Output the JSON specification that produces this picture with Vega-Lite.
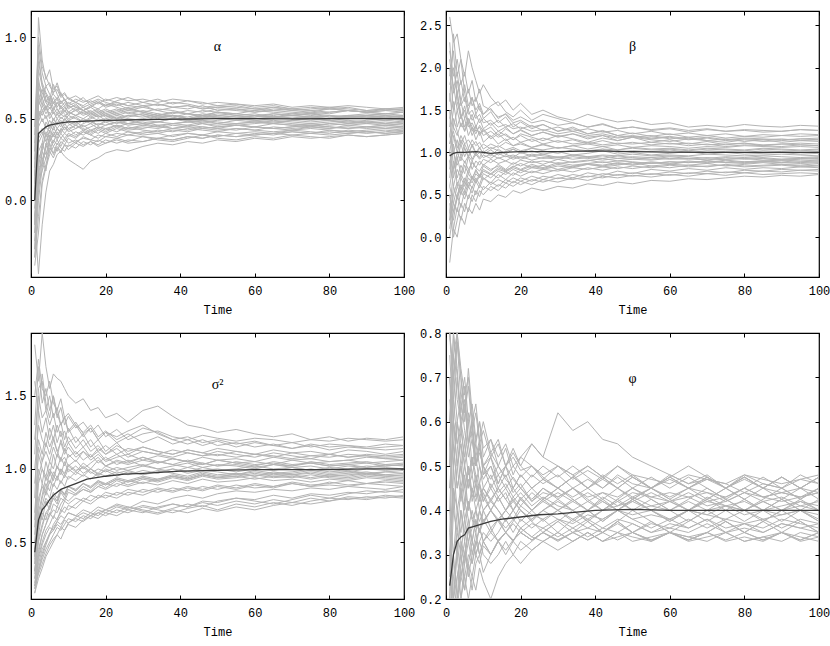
{
  "$schema": "https://vega.github.io/schema/vega-lite/v6.json",
  "padding": {"left": 3, "top": 9, "right": 0, "bottom": 5},
  "background": "white",
  "datasets": {
    "alpha": [
      {"s":1,"t":[1,2,3,4,5,6,7,8,9,10,12,14,16,18,20,23,26,30,34,38,42,46,50,55,60,65,70,75,80,85,90,95,100],"v":[0.0,1.12,0.86,0.74,0.80,0.68,0.70,0.64,0.66,0.62,0.60,0.63,0.58,0.60,0.57,0.59,0.56,0.58,0.55,0.57,0.56,0.58,0.55,0.56,0.54,0.56,0.55,0.54,0.56,0.55,0.54,0.56,0.55]},
      {"s":2,"t":[1,2,3,4,5,6,7,8,9,10,12,14,16,18,20,23,26,30,34,38,42,46,50,55,60,65,70,75,80,85,90,95,100],"v":[-0.1,-0.45,-0.15,0.05,0.18,0.22,0.28,0.30,0.34,0.33,0.36,0.38,0.37,0.40,0.39,0.41,0.40,0.42,0.41,0.43,0.42,0.44,0.43,0.44,0.43,0.45,0.44,0.45,0.44,0.46,0.45,0.44,0.45]},
      {"s":3,"t":[1,2,3,4,5,6,7,8,9,10,12,14,16,18,20,23,26,30,34,38,42,46,50,55,60,65,70,75,80,85,90,95,100],"v":[0.3,0.85,0.72,0.66,0.62,0.71,0.65,0.60,0.62,0.57,0.58,0.55,0.57,0.54,0.56,0.53,0.55,0.54,0.52,0.54,0.53,0.52,0.54,0.53,0.52,0.53,0.52,0.53,0.52,0.51,0.52,0.53,0.52]},
      {"s":4,"t":[1,2,3,4,5,6,7,8,9,10,12,14,16,18,20,23,26,30,34,38,42,46,50,55,60,65,70,75,80,85,90,95,100],"v":[-0.3,0.15,0.30,0.42,0.38,0.45,0.40,0.43,0.47,0.44,0.46,0.43,0.45,0.47,0.46,0.48,0.47,0.46,0.48,0.47,0.48,0.49,0.48,0.47,0.48,0.49,0.48,0.47,0.48,0.49,0.48,0.47,0.48]},
      {"s":5,"t":[1,2,3,4,5,6,7,8,9,10,12,14,16,18,20,23,26,30,34,38,42,46,50,55,60,65,70,75,80,85,90,95,100],"v":[0.2,0.62,0.55,0.58,0.52,0.56,0.60,0.57,0.54,0.58,0.55,0.57,0.54,0.56,0.53,0.55,0.57,0.54,0.56,0.55,0.53,0.55,0.54,0.53,0.55,0.54,0.53,0.54,0.53,0.55,0.54,0.53,0.54]},
      {"s":6,"t":[1,2,3,4,5,6,7,8,9,10,12,14,16,18,20,23,26,30,34,38,42,46,50,55,60,65,70,75,80,85,90,95,100],"v":[-0.2,0.05,0.25,0.18,0.35,0.28,0.33,0.30,0.27,0.25,0.22,0.19,0.24,0.26,0.29,0.31,0.30,0.33,0.35,0.34,0.36,0.35,0.37,0.36,0.38,0.37,0.39,0.38,0.39,0.40,0.39,0.40,0.41]},
      {"s":7,"t":[1,2,3,4,5,6,7,8,9,10,12,14,16,18,20,23,26,30,34,38,42,46,50,55,60,65,70,75,80,85,90,95,100],"v":[0.1,0.55,0.48,0.52,0.45,0.50,0.47,0.51,0.49,0.52,0.50,0.48,0.51,0.49,0.50,0.52,0.50,0.49,0.51,0.50,0.49,0.51,0.50,0.49,0.50,0.51,0.50,0.49,0.50,0.51,0.50,0.49,0.50]},
      {"s":8,"t":[1,2,3,4,5,6,7,8,9,10,12,14,16,18,20,23,26,30,34,38,42,46,50,55,60,65,70,75,80,85,90,95,100],"v":[0.4,0.95,0.78,0.70,0.72,0.65,0.62,0.66,0.61,0.63,0.60,0.58,0.61,0.59,0.62,0.60,0.58,0.60,0.62,0.59,0.61,0.60,0.58,0.59,0.57,0.58,0.56,0.57,0.56,0.57,0.55,0.56,0.56]},
      {"s":9,"t":[1,2,3,4,5,6,7,8,9,10,12,14,16,18,20,23,26,30,34,38,42,46,50,55,60,65,70,75,80,85,90,95,100],"v":[-0.4,-0.2,0.10,0.20,0.28,0.33,0.30,0.36,0.34,0.38,0.35,0.39,0.37,0.36,0.39,0.38,0.40,0.39,0.38,0.40,0.41,0.40,0.39,0.41,0.40,0.41,0.42,0.41,0.40,0.41,0.42,0.41,0.42]},
      {"s":10,"t":[1,2,3,4,5,6,7,8,9,10,12,14,16,18,20,23,26,30,34,38,42,46,50,55,60,65,70,75,80,85,90,95,100],"v":[0.0,0.40,0.44,0.39,0.46,0.43,0.48,0.45,0.50,0.47,0.44,0.47,0.49,0.46,0.48,0.45,0.47,0.48,0.46,0.47,0.48,0.47,0.46,0.47,0.48,0.47,0.46,0.47,0.46,0.47,0.48,0.47,0.46]},
      {"s":11,"t":[1,2,3,4,5,6,7,8,9,10,12,14,16,18,20,23,26,30,34,38,42,46,50,55,60,65,70,75,80,85,90,95,100],"v":[0.15,0.72,0.66,0.60,0.64,0.59,0.62,0.57,0.60,0.56,0.59,0.55,0.57,0.60,0.58,0.61,0.63,0.60,0.58,0.60,0.59,0.57,0.58,0.57,0.56,0.55,0.56,0.55,0.54,0.55,0.54,0.53,0.54]},
      {"s":12,"t":[1,2,3,4,5,6,7,8,9,10,12,14,16,18,20,23,26,30,34,38,42,46,50,55,60,65,70,75,80,85,90,95,100],"v":[-0.25,0.20,0.22,0.35,0.30,0.37,0.34,0.38,0.36,0.40,0.38,0.42,0.40,0.43,0.41,0.44,0.42,0.41,0.43,0.42,0.44,0.43,0.42,0.44,0.43,0.42,0.43,0.44,0.43,0.42,0.43,0.44,0.43]},
      {"s":13,"t":[1,2,3,4,5,6,7,8,9,10,12,14,16,18,20,23,26,30,34,38,42,46,50,55,60,65,70,75,80,85,90,95,100],"v":[0.05,0.58,0.63,0.56,0.60,0.54,0.52,0.55,0.53,0.50,0.52,0.54,0.51,0.53,0.55,0.52,0.54,0.52,0.50,0.52,0.51,0.53,0.52,0.51,0.52,0.51,0.53,0.52,0.51,0.52,0.51,0.52,0.51]},
      {"s":14,"t":[1,2,3,4,5,6,7,8,9,10,12,14,16,18,20,23,26,30,34,38,42,46,50,55,60,65,70,75,80,85,90,95,100],"v":[-0.15,0.30,0.35,0.28,0.36,0.40,0.37,0.33,0.38,0.35,0.37,0.34,0.36,0.33,0.35,0.37,0.35,0.36,0.38,0.37,0.39,0.38,0.40,0.39,0.41,0.40,0.42,0.41,0.43,0.42,0.41,0.42,0.43]},
      {"s":15,"t":[1,2,3,4,5,6,7,8,9,10,12,14,16,18,20,23,26,30,34,38,42,46,50,55,60,65,70,75,80,85,90,95,100],"v":[0.25,0.80,0.70,0.62,0.58,0.63,0.57,0.61,0.58,0.60,0.57,0.55,0.58,0.56,0.59,0.57,0.55,0.57,0.55,0.53,0.55,0.54,0.56,0.55,0.54,0.55,0.54,0.53,0.54,0.55,0.54,0.55,0.54]},
      {"s":16,"t":[1,2,3,4,5,6,7,8,9,10,12,14,16,18,20,23,26,30,34,38,42,46,50,55,60,65,70,75,80,85,90,95,100],"v":[-0.05,0.10,0.18,0.26,0.32,0.29,0.35,0.32,0.30,0.34,0.32,0.36,0.34,0.37,0.35,0.38,0.36,0.39,0.37,0.36,0.38,0.40,0.38,0.37,0.39,0.38,0.40,0.39,0.38,0.40,0.39,0.40,0.41]},
      {"s":17,"t":[1,2,3,4,5,6,7,8,9,10,12,14,16,18,20,23,26,30,34,38,42,46,50,55,60,65,70,75,80,85,90,95,100],"v":[0.1,0.66,0.58,0.64,0.61,0.66,0.72,0.65,0.62,0.59,0.62,0.60,0.62,0.64,0.61,0.63,0.61,0.62,0.60,0.62,0.61,0.59,0.60,0.59,0.58,0.59,0.57,0.58,0.57,0.58,0.57,0.56,0.57]},
      {"s":18,"t":[1,2,3,4,5,6,7,8,9,10,12,14,16,18,20,23,26,30,34,38,42,46,50,55,60,65,70,75,80,85,90,95,100],"v":[-0.35,0.00,0.20,0.34,0.42,0.39,0.44,0.41,0.45,0.43,0.46,0.44,0.42,0.45,0.43,0.46,0.44,0.45,0.44,0.46,0.45,0.44,0.45,0.46,0.45,0.44,0.45,0.46,0.45,0.44,0.45,0.46,0.45]},
      {"s":19,"t":[1,2,3,4,5,6,7,8,9,10,12,14,16,18,20,23,26,30,34,38,42,46,50,55,60,65,70,75,80,85,90,95,100],"v":[0.0,0.48,0.55,0.50,0.54,0.49,0.53,0.50,0.52,0.49,0.51,0.48,0.50,0.52,0.49,0.51,0.49,0.50,0.52,0.51,0.49,0.50,0.51,0.50,0.49,0.50,0.51,0.50,0.49,0.50,0.51,0.50,0.49]},
      {"s":20,"t":[1,2,3,4,5,6,7,8,9,10,12,14,16,18,20,23,26,30,34,38,42,46,50,55,60,65,70,75,80,85,90,95,100],"v":[-0.1,0.25,0.32,0.40,0.36,0.42,0.38,0.44,0.41,0.39,0.42,0.40,0.43,0.41,0.44,0.42,0.45,0.43,0.42,0.44,0.43,0.45,0.44,0.43,0.45,0.44,0.43,0.45,0.44,0.45,0.44,0.45,0.44]},
      {"s":21,"t":[1,2,3,4,5,6,7,8,9,10,12,14,16,18,20,23,26,30,34,38,42,46,50,55,60,65,70,75,80,85,90,95,100],"v":[0.2,0.75,0.6,0.55,0.62,0.57,0.53,0.58,0.55,0.52,0.56,0.53,0.55,0.52,0.54,0.56,0.53,0.55,0.53,0.51,0.53,0.52,0.54,0.52,0.53,0.51,0.52,0.53,0.51,0.52,0.53,0.52,0.51]},
      {"s":22,"t":[1,2,3,4,5,6,7,8,9,10,12,14,16,18,20,23,26,30,34,38,42,46,50,55,60,65,70,75,80,85,90,95,100],"v":[-0.2,0.35,0.4,0.45,0.42,0.48,0.44,0.47,0.43,0.46,0.48,0.45,0.47,0.44,0.46,0.48,0.46,0.47,0.45,0.47,0.46,0.48,0.47,0.46,0.47,0.48,0.47,0.46,0.47,0.48,0.47,0.48,0.47]},
      {"s":23,"t":[1,2,3,4,5,6,7,8,9,10,12,14,16,18,20,23,26,30,34,38,42,46,50,55,60,65,70,75,80,85,90,95,100],"v":[0.35,0.9,0.7,0.65,0.6,0.55,0.6,0.56,0.58,0.54,0.57,0.55,0.53,0.55,0.52,0.54,0.56,0.54,0.52,0.54,0.53,0.51,0.53,0.52,0.51,0.53,0.52,0.51,0.52,0.51,0.5,0.51,0.52]},
      {"s":24,"t":[1,2,3,4,5,6,7,8,9,10,12,14,16,18,20,23,26,30,34,38,42,46,50,55,60,65,70,75,80,85,90,95,100],"v":[-0.3,0.1,0.3,0.25,0.4,0.35,0.42,0.38,0.41,0.44,0.4,0.43,0.41,0.44,0.42,0.45,0.43,0.44,0.46,0.44,0.45,0.47,0.45,0.46,0.45,0.47,0.46,0.45,0.47,0.46,0.47,0.46,0.47]},
      {"s":25,"t":[1,2,3,4,5,6,7,8,9,10,12,14,16,18,20,23,26,30,34,38,42,46,50,55,60,65,70,75,80,85,90,95,100],"v":[0.1,0.6,0.68,0.6,0.56,0.6,0.56,0.53,0.57,0.54,0.52,0.55,0.52,0.54,0.51,0.53,0.51,0.53,0.51,0.52,0.5,0.52,0.51,0.5,0.52,0.51,0.5,0.51,0.5,0.51,0.52,0.51,0.5]},
      {"s":26,"t":[1,2,3,4,5,6,7,8,9,10,12,14,16,18,20,23,26,30,34,38,42,46,50,55,60,65,70,75,80,85,90,95,100],"v":[-0.1,0.2,0.35,0.48,0.44,0.5,0.46,0.49,0.46,0.49,0.47,0.5,0.48,0.46,0.49,0.47,0.49,0.47,0.48,0.5,0.48,0.49,0.47,0.49,0.48,0.47,0.49,0.48,0.49,0.47,0.48,0.49,0.48]},
      {"s":27,"t":[1,2,3,4,5,6,7,8,9,10,12,14,16,18,20,23,26,30,34,38,42,46,50,55,60,65,70,75,80,85,90,95,100],"v":[0.3,0.7,0.62,0.7,0.65,0.6,0.63,0.59,0.62,0.58,0.6,0.57,0.59,0.61,0.58,0.6,0.58,0.57,0.59,0.57,0.58,0.56,0.57,0.58,0.56,0.57,0.55,0.56,0.57,0.56,0.55,0.56,0.55]},
      {"s":28,"t":[1,2,3,4,5,6,7,8,9,10,12,14,16,18,20,23,26,30,34,38,42,46,50,55,60,65,70,75,80,85,90,95,100],"v":[-0.15,0.28,0.25,0.32,0.38,0.33,0.37,0.41,0.38,0.41,0.39,0.42,0.4,0.38,0.41,0.39,0.42,0.4,0.41,0.39,0.41,0.4,0.42,0.41,0.42,0.41,0.43,0.42,0.41,0.43,0.42,0.43,0.42]},
      {"s":29,"t":[1,2,3,4,5,6,7,8,9,10,12,14,16,18,20,23,26,30,34,38,42,46,50,55,60,65,70,75,80,85,90,95,100],"v":[0.05,0.5,0.58,0.53,0.57,0.53,0.56,0.52,0.55,0.53,0.55,0.52,0.54,0.51,0.53,0.5,0.52,0.51,0.53,0.52,0.5,0.52,0.51,0.5,0.51,0.52,0.5,0.51,0.5,0.52,0.51,0.5,0.51]},
      {"s":30,"t":[1,2,3,4,5,6,7,8,9,10,12,14,16,18,20,23,26,30,34,38,42,46,50,55,60,65,70,75,80,85,90,95,100],"v":[0.0,0.45,0.5,0.44,0.49,0.45,0.5,0.47,0.5,0.48,0.46,0.49,0.47,0.5,0.48,0.49,0.47,0.49,0.48,0.5,0.49,0.48,0.49,0.5,0.49,0.48,0.49,0.5,0.49,0.48,0.49,0.5,0.49]},
      {"s":31,"t":[1,2,3,4,5,6,7,8,9,10,12,14,16,18,20,23,26,30,34,38,42,46,50,55,60,65,70,75,80,85,90,95,100],"v":[0.45,1.0,0.82,0.76,0.7,0.66,0.68,0.63,0.65,0.62,0.64,0.61,0.6,0.62,0.6,0.58,0.6,0.58,0.59,0.57,0.58,0.56,0.57,0.56,0.55,0.57,0.56,0.55,0.56,0.55,0.54,0.55,0.56]},
      {"s":32,"t":[1,2,3,4,5,6,7,8,9,10,12,14,16,18,20,23,26,30,34,38,42,46,50,55,60,65,70,75,80,85,90,95,100],"v":[-0.35,-0.1,0.12,0.22,0.3,0.26,0.32,0.29,0.34,0.31,0.35,0.33,0.36,0.34,0.37,0.35,0.37,0.36,0.38,0.37,0.39,0.38,0.4,0.39,0.4,0.41,0.4,0.41,0.42,0.41,0.42,0.41,0.42]},
      {"s":33,"t":[1,2,3,4,5,6,7,8,9,10,12,14,16,18,20,23,26,30,34,38,42,46,50,55,60,65,70,75,80,85,90,95,100],"v":[0.15,0.55,0.52,0.58,0.5,0.54,0.5,0.53,0.51,0.54,0.52,0.5,0.53,0.51,0.52,0.5,0.52,0.53,0.51,0.52,0.5,0.51,0.52,0.51,0.5,0.51,0.52,0.51,0.5,0.51,0.52,0.51,0.52]},
      {"s":34,"t":[1,2,3,4,5,6,7,8,9,10,12,14,16,18,20,23,26,30,34,38,42,46,50,55,60,65,70,75,80,85,90,95,100],"v":[-0.05,0.38,0.42,0.36,0.43,0.4,0.44,0.42,0.45,0.42,0.44,0.46,0.43,0.45,0.44,0.46,0.44,0.46,0.45,0.44,0.46,0.45,0.44,0.46,0.45,0.44,0.45,0.46,0.45,0.44,0.45,0.46,0.45]}
    ],
    "beta": [
      {"s":1,"t":[1,2,3,4,5,6,7,8,9,10,12,14,16,18,20,23,26,30,34,38,42,46,50,55,60,65,70,75,80,85,90,95,100],"v":[2.6,2.3,2.4,2.1,1.9,2.2,2.0,1.85,1.7,1.8,1.65,1.55,1.62,1.5,1.58,1.45,1.5,1.42,1.38,1.45,1.4,1.36,1.38,1.33,1.35,1.3,1.32,1.3,1.33,1.31,1.3,1.32,1.31]},
      {"s":2,"t":[1,2,3,4,5,6,7,8,9,10,12,14,16,18,20,23,26,30,34,38,42,46,50,55,60,65,70,75,80,85,90,95,100],"v":[-0.3,0.1,0.0,0.25,0.15,0.35,0.28,0.4,0.32,0.45,0.42,0.5,0.47,0.55,0.52,0.58,0.55,0.6,0.58,0.63,0.61,0.65,0.63,0.67,0.66,0.69,0.68,0.7,0.72,0.71,0.73,0.72,0.74]},
      {"s":3,"t":[1,2,3,4,5,6,7,8,9,10,12,14,16,18,20,23,26,30,34,38,42,46,50,55,60,65,70,75,80,85,90,95,100],"v":[1.8,2.0,1.7,1.85,1.6,1.75,1.55,1.65,1.5,1.45,1.55,1.6,1.48,1.42,1.5,1.38,1.45,1.4,1.35,1.3,1.34,1.28,1.3,1.26,1.28,1.24,1.27,1.25,1.26,1.24,1.25,1.27,1.26]},
      {"s":4,"t":[1,2,3,4,5,6,7,8,9,10,12,14,16,18,20,23,26,30,34,38,42,46,50,55,60,65,70,75,80,85,90,95,100],"v":[0.4,0.2,0.5,0.35,0.55,0.45,0.6,0.5,0.62,0.56,0.65,0.6,0.68,0.64,0.7,0.66,0.72,0.69,0.74,0.71,0.75,0.73,0.76,0.74,0.77,0.75,0.78,0.76,0.79,0.78,0.8,0.79,0.8]},
      {"s":5,"t":[1,2,3,4,5,6,7,8,9,10,12,14,16,18,20,23,26,30,34,38,42,46,50,55,60,65,70,75,80,85,90,95,100],"v":[1.4,1.6,1.3,1.45,1.25,1.35,1.2,1.3,1.22,1.28,1.18,1.25,1.2,1.15,1.22,1.18,1.14,1.2,1.16,1.12,1.17,1.14,1.18,1.15,1.13,1.16,1.14,1.12,1.15,1.13,1.14,1.16,1.15]},
      {"s":6,"t":[1,2,3,4,5,6,7,8,9,10,12,14,16,18,20,23,26,30,34,38,42,46,50,55,60,65,70,75,80,85,90,95,100],"v":[0.9,0.6,0.8,0.7,0.85,0.75,0.9,0.82,0.78,0.86,0.8,0.84,0.79,0.83,0.87,0.82,0.85,0.8,0.84,0.86,0.83,0.85,0.88,0.84,0.86,0.85,0.87,0.84,0.86,0.88,0.86,0.85,0.87]},
      {"s":7,"t":[1,2,3,4,5,6,7,8,9,10,12,14,16,18,20,23,26,30,34,38,42,46,50,55,60,65,70,75,80,85,90,95,100],"v":[2.2,1.9,2.1,1.8,1.95,1.7,1.85,1.6,1.75,1.55,1.5,1.42,1.45,1.35,1.38,1.3,1.33,1.25,1.28,1.22,1.25,1.2,1.18,1.2,1.16,1.18,1.14,1.16,1.13,1.15,1.12,1.14,1.13]},
      {"s":8,"t":[1,2,3,4,5,6,7,8,9,10,12,14,16,18,20,23,26,30,34,38,42,46,50,55,60,65,70,75,80,85,90,95,100],"v":[0.1,0.4,0.3,0.55,0.45,0.6,0.52,0.66,0.58,0.7,0.64,0.74,0.68,0.76,0.72,0.78,0.75,0.8,0.77,0.82,0.79,0.83,0.81,0.84,0.82,0.85,0.83,0.86,0.84,0.85,0.86,0.84,0.85]},
      {"s":9,"t":[1,2,3,4,5,6,7,8,9,10,12,14,16,18,20,23,26,30,34,38,42,46,50,55,60,65,70,75,80,85,90,95,100],"v":[1.2,1.0,1.15,0.95,1.1,1.0,1.08,0.98,1.05,1.0,1.06,1.02,0.98,1.04,1.0,1.05,1.02,0.99,1.03,1.01,1.04,1.0,1.02,1.01,1.03,1.0,1.02,1.01,1.0,1.02,1.01,1.0,1.01]},
      {"s":10,"t":[1,2,3,4,5,6,7,8,9,10,12,14,16,18,20,23,26,30,34,38,42,46,50,55,60,65,70,75,80,85,90,95,100],"v":[0.6,0.9,0.7,0.85,0.75,0.95,0.8,0.9,0.85,0.92,0.88,0.94,0.9,0.95,0.92,0.96,0.93,0.95,0.92,0.94,0.96,0.93,0.95,0.94,0.96,0.95,0.93,0.95,0.94,0.96,0.95,0.94,0.95]},
      {"s":11,"t":[1,2,3,4,5,6,7,8,9,10,12,14,16,18,20,23,26,30,34,38,42,46,50,55,60,65,70,75,80,85,90,95,100],"v":[1.6,2.4,1.9,2.1,1.7,1.5,1.65,1.45,1.55,1.4,1.48,1.35,1.42,1.3,1.36,1.28,1.33,1.25,1.3,1.22,1.26,1.2,1.23,1.19,1.22,1.18,1.2,1.17,1.19,1.18,1.2,1.19,1.2]},
      {"s":12,"t":[1,2,3,4,5,6,7,8,9,10,12,14,16,18,20,23,26,30,34,38,42,46,50,55,60,65,70,75,80,85,90,95,100],"v":[0.3,0.0,0.2,0.4,0.3,0.5,0.42,0.55,0.48,0.6,0.55,0.62,0.58,0.66,0.62,0.68,0.65,0.7,0.68,0.72,0.7,0.74,0.72,0.75,0.73,0.76,0.75,0.77,0.76,0.78,0.77,0.79,0.78]},
      {"s":13,"t":[1,2,3,4,5,6,7,8,9,10,12,14,16,18,20,23,26,30,34,38,42,46,50,55,60,65,70,75,80,85,90,95,100],"v":[1.0,1.3,1.2,1.35,1.25,1.4,1.3,1.22,1.32,1.25,1.3,1.2,1.28,1.22,1.26,1.2,1.24,1.19,1.22,1.18,1.2,1.17,1.19,1.16,1.18,1.15,1.17,1.14,1.16,1.15,1.16,1.14,1.15]},
      {"s":14,"t":[1,2,3,4,5,6,7,8,9,10,12,14,16,18,20,23,26,30,34,38,42,46,50,55,60,65,70,75,80,85,90,95,100],"v":[1.5,0.8,1.0,0.9,1.05,0.95,1.1,1.0,0.94,1.02,0.96,1.04,0.98,0.94,1.0,0.96,0.98,0.94,0.97,0.95,0.93,0.96,0.94,0.92,0.95,0.93,0.91,0.94,0.92,0.93,0.91,0.92,0.93]},
      {"s":15,"t":[1,2,3,4,5,6,7,8,9,10,12,14,16,18,20,23,26,30,34,38,42,46,50,55,60,65,70,75,80,85,90,95,100],"v":[0.7,1.1,0.6,0.75,0.65,0.8,0.7,0.78,0.72,0.8,0.75,0.82,0.78,0.84,0.8,0.86,0.82,0.88,0.85,0.87,0.89,0.86,0.88,0.87,0.89,0.88,0.9,0.88,0.89,0.9,0.88,0.89,0.9]},
      {"s":16,"t":[1,2,3,4,5,6,7,8,9,10,12,14,16,18,20,23,26,30,34,38,42,46,50,55,60,65,70,75,80,85,90,95,100],"v":[2.0,1.5,1.7,1.4,1.55,1.35,1.45,1.3,1.4,1.28,1.35,1.25,1.3,1.22,1.27,1.2,1.24,1.18,1.22,1.16,1.2,1.14,1.18,1.12,1.15,1.1,1.13,1.09,1.11,1.08,1.1,1.09,1.08]},
      {"s":17,"t":[1,2,3,4,5,6,7,8,9,10,12,14,16,18,20,23,26,30,34,38,42,46,50,55,60,65,70,75,80,85,90,95,100],"v":[0.2,0.5,0.65,0.55,0.7,0.6,0.72,0.66,0.74,0.7,0.62,0.68,0.64,0.7,0.66,0.72,0.68,0.74,0.7,0.76,0.73,0.78,0.75,0.8,0.78,0.81,0.79,0.82,0.8,0.82,0.81,0.83,0.82]},
      {"s":18,"t":[1,2,3,4,5,6,7,8,9,10,12,14,16,18,20,23,26,30,34,38,42,46,50,55,60,65,70,75,80,85,90,95,100],"v":[1.1,1.4,1.25,1.1,1.2,1.05,1.15,1.08,1.12,1.04,1.1,1.06,1.12,1.08,1.1,1.06,1.09,1.05,1.08,1.1,1.07,1.09,1.06,1.08,1.07,1.05,1.07,1.06,1.08,1.07,1.06,1.07,1.06]},
      {"s":19,"t":[1,2,3,4,5,6,7,8,9,10,12,14,16,18,20,23,26,30,34,38,42,46,50,55,60,65,70,75,80,85,90,95,100],"v":[0.5,0.3,0.45,0.6,0.5,0.65,0.58,0.7,0.62,0.75,0.7,0.78,0.74,0.8,0.76,0.82,0.8,0.84,0.82,0.86,0.84,0.87,0.85,0.88,0.86,0.89,0.87,0.9,0.88,0.89,0.9,0.88,0.89]},
      {"s":20,"t":[1,2,3,4,5,6,7,8,9,10,12,14,16,18,20,23,26,30,34,38,42,46,50,55,60,65,70,75,80,85,90,95,100],"v":[1.3,1.8,1.5,1.6,1.4,1.5,1.38,1.45,1.35,1.4,1.32,1.38,1.3,1.34,1.28,1.32,1.26,1.3,1.25,1.28,1.24,1.26,1.22,1.25,1.21,1.23,1.2,1.22,1.19,1.21,1.2,1.22,1.21]},
      {"s":21,"t":[1,2,3,4,5,6,7,8,9,10,12,14,16,18,20,23,26,30,34,38,42,46,50,55,60,65,70,75,80,85,90,95,100],"v":[1.9,2.2,1.6,1.4,1.5,1.3,1.35,1.25,1.3,1.2,1.25,1.18,1.22,1.15,1.2,1.13,1.17,1.12,1.15,1.1,1.14,1.1,1.12,1.09,1.11,1.08,1.1,1.07,1.09,1.08,1.07,1.09,1.08]},
      {"s":22,"t":[1,2,3,4,5,6,7,8,9,10,12,14,16,18,20,23,26,30,34,38,42,46,50,55,60,65,70,75,80,85,90,95,100],"v":[0.0,0.3,0.5,0.62,0.55,0.7,0.64,0.75,0.7,0.78,0.74,0.8,0.77,0.82,0.79,0.84,0.81,0.86,0.83,0.87,0.85,0.88,0.86,0.89,0.87,0.9,0.88,0.91,0.89,0.9,0.91,0.9,0.91]},
      {"s":23,"t":[1,2,3,4,5,6,7,8,9,10,12,14,16,18,20,23,26,30,34,38,42,46,50,55,60,65,70,75,80,85,90,95,100],"v":[1.0,0.7,0.9,1.1,0.95,1.05,0.92,1.0,1.06,0.98,1.03,0.97,1.01,1.04,0.99,1.02,0.98,1.01,0.97,0.99,1.02,0.98,1.0,0.97,0.99,1.01,0.98,1.0,0.98,0.99,1.0,0.98,0.99]},
      {"s":24,"t":[1,2,3,4,5,6,7,8,9,10,12,14,16,18,20,23,26,30,34,38,42,46,50,55,60,65,70,75,80,85,90,95,100],"v":[2.3,1.7,1.85,1.55,1.65,1.45,1.5,1.4,1.45,1.35,1.38,1.3,1.33,1.28,1.3,1.25,1.27,1.22,1.25,1.2,1.22,1.18,1.2,1.17,1.19,1.16,1.18,1.15,1.17,1.16,1.15,1.16,1.17]},
      {"s":25,"t":[1,2,3,4,5,6,7,8,9,10,12,14,16,18,20,23,26,30,34,38,42,46,50,55,60,65,70,75,80,85,90,95,100],"v":[0.8,1.2,1.0,1.15,1.05,0.95,1.02,0.96,1.0,0.94,0.98,0.93,0.96,0.92,0.95,0.91,0.94,0.92,0.95,0.93,0.91,0.93,0.92,0.94,0.92,0.93,0.91,0.92,0.93,0.91,0.92,0.93,0.92]},
      {"s":26,"t":[1,2,3,4,5,6,7,8,9,10,12,14,16,18,20,23,26,30,34,38,42,46,50,55,60,65,70,75,80,85,90,95,100],"v":[0.2,0.6,0.45,0.7,0.6,0.75,0.68,0.8,0.72,0.84,0.78,0.86,0.8,0.88,0.84,0.9,0.86,0.92,0.88,0.9,0.93,0.9,0.92,0.91,0.93,0.92,0.94,0.92,0.93,0.94,0.92,0.93,0.94]},
      {"s":27,"t":[1,2,3,4,5,6,7,8,9,10,12,14,16,18,20,23,26,30,34,38,42,46,50,55,60,65,70,75,80,85,90,95,100],"v":[1.7,1.3,1.5,1.3,1.4,1.2,1.3,1.15,1.25,1.12,1.2,1.1,1.16,1.08,1.12,1.06,1.1,1.05,1.08,1.04,1.07,1.03,1.06,1.04,1.05,1.03,1.05,1.04,1.03,1.05,1.04,1.03,1.04]},
      {"s":28,"t":[1,2,3,4,5,6,7,8,9,10,12,14,16,18,20,23,26,30,34,38,42,46,50,55,60,65,70,75,80,85,90,95,100],"v":[0.5,0.1,0.35,0.2,0.4,0.3,0.5,0.42,0.55,0.5,0.6,0.55,0.64,0.6,0.66,0.62,0.68,0.65,0.7,0.67,0.72,0.7,0.73,0.71,0.74,0.72,0.75,0.73,0.76,0.74,0.75,0.76,0.75]},
      {"s":29,"t":[1,2,3,4,5,6,7,8,9,10,12,14,16,18,20,23,26,30,34,38,42,46,50,55,60,65,70,75,80,85,90,95,100],"v":[1.2,1.5,1.7,1.45,1.3,1.4,1.25,1.32,1.2,1.26,1.16,1.22,1.14,1.18,1.12,1.16,1.1,1.14,1.1,1.12,1.09,1.11,1.1,1.12,1.1,1.11,1.09,1.1,1.11,1.09,1.1,1.11,1.1]},
      {"s":30,"t":[1,2,3,4,5,6,7,8,9,10,12,14,16,18,20,23,26,30,34,38,42,46,50,55,60,65,70,75,80,85,90,95,100],"v":[0.9,1.0,0.85,0.95,0.88,0.96,0.9,0.98,0.92,0.97,0.93,0.99,0.95,0.97,0.94,0.98,0.96,0.94,0.97,0.95,0.97,0.96,0.98,0.96,0.97,0.96,0.98,0.97,0.96,0.97,0.98,0.97,0.96]},
      {"s":31,"t":[1,2,3,4,5,6,7,8,9,10,12,14,16,18,20,23,26,30,34,38,42,46,50,55,60,65,70,75,80,85,90,95,100],"v":[0.3,0.8,0.95,0.75,0.9,0.8,0.88,0.82,0.9,0.85,0.92,0.87,0.9,0.86,0.91,0.88,0.9,0.87,0.89,0.91,0.88,0.9,0.89,0.87,0.89,0.88,0.9,0.88,0.87,0.89,0.88,0.87,0.88]},
      {"s":32,"t":[1,2,3,4,5,6,7,8,9,10,12,14,16,18,20,23,26,30,34,38,42,46,50,55,60,65,70,75,80,85,90,95,100],"v":[2.1,1.75,1.95,1.6,1.8,1.55,1.65,1.5,1.58,1.45,1.52,1.4,1.46,1.38,1.42,1.35,1.38,1.32,1.35,1.3,1.33,1.28,1.3,1.27,1.29,1.26,1.28,1.25,1.27,1.26,1.25,1.27,1.26]},
      {"s":33,"t":[1,2,3,4,5,6,7,8,9,10,12,14,16,18,20,23,26,30,34,38,42,46,50,55,60,65,70,75,80,85,90,95,100],"v":[1.1,1.25,1.05,1.2,1.1,1.15,1.08,1.13,1.05,1.1,1.04,1.08,1.03,1.06,1.02,1.05,1.03,1.06,1.04,1.02,1.04,1.03,1.05,1.03,1.04,1.02,1.04,1.03,1.02,1.04,1.03,1.02,1.03]},
      {"s":34,"t":[1,2,3,4,5,6,7,8,9,10,12,14,16,18,20,23,26,30,34,38,42,46,50,55,60,65,70,75,80,85,90,95,100],"v":[0.6,0.4,0.6,0.5,0.65,0.58,0.7,0.64,0.72,0.68,0.75,0.7,0.77,0.73,0.79,0.76,0.8,0.78,0.82,0.8,0.83,0.81,0.84,0.82,0.85,0.83,0.84,0.85,0.83,0.84,0.85,0.83,0.84]}
    ],
    "sigma": [
      {"s":1,"t":[1,2,3,4,5,6,7,8,9,10,12,14,16,18,20,23,26,30,34,38,42,46,50,55,60,65,70,75,80,85,90,95,100],"v":[1.85,1.6,1.93,1.7,1.55,1.65,1.62,1.6,1.55,1.5,1.45,1.48,1.4,1.42,1.35,1.38,1.32,1.4,1.43,1.36,1.3,1.28,1.25,1.27,1.24,1.22,1.24,1.2,1.22,1.19,1.21,1.2,1.22]},
      {"s":2,"t":[1,2,3,4,5,6,7,8,9,10,12,14,16,18,20,23,26,30,34,38,42,46,50,55,60,65,70,75,80,85,90,95,100],"v":[0.2,0.35,0.45,0.5,0.55,0.58,0.62,0.6,0.65,0.63,0.67,0.7,0.68,0.72,0.7,0.74,0.72,0.75,0.73,0.76,0.74,0.77,0.75,0.78,0.76,0.79,0.77,0.8,0.78,0.81,0.8,0.82,0.81]},
      {"s":3,"t":[1,2,3,4,5,6,7,8,9,10,12,14,16,18,20,23,26,30,34,38,42,46,50,55,60,65,70,75,80,85,90,95,100],"v":[0.3,0.55,0.7,0.65,0.75,0.8,0.78,0.85,0.82,0.88,0.86,0.9,0.88,0.92,0.9,0.94,0.92,0.95,0.93,0.96,0.94,0.97,0.95,0.96,0.98,0.96,0.97,0.99,0.97,0.98,0.96,0.98,0.97]},
      {"s":4,"t":[1,2,3,4,5,6,7,8,9,10,12,14,16,18,20,23,26,30,34,38,42,46,50,55,60,65,70,75,80,85,90,95,100],"v":[1.5,1.75,1.55,1.5,1.6,1.45,1.4,1.48,1.35,1.38,1.3,1.25,1.3,1.22,1.26,1.2,1.24,1.18,1.22,1.17,1.2,1.16,1.19,1.15,1.18,1.16,1.14,1.17,1.15,1.16,1.14,1.15,1.16]},
      {"s":5,"t":[1,2,3,4,5,6,7,8,9,10,12,14,16,18,20,23,26,30,34,38,42,46,50,55,60,65,70,75,80,85,90,95,100],"v":[0.25,0.4,0.5,0.58,0.62,0.68,0.65,0.72,0.7,0.75,0.73,0.78,0.76,0.8,0.82,0.8,0.84,0.82,0.86,0.84,0.87,0.85,0.88,0.86,0.89,0.87,0.9,0.88,0.91,0.89,0.9,0.92,0.91]},
      {"s":6,"t":[1,2,3,4,5,6,7,8,9,10,12,14,16,18,20,23,26,30,34,38,42,46,50,55,60,65,70,75,80,85,90,95,100],"v":[0.5,0.9,1.0,0.95,1.05,1.0,1.1,1.05,1.08,1.02,1.06,1.0,1.04,1.08,1.02,1.06,1.04,1.08,1.05,1.03,1.06,1.04,1.02,1.05,1.03,1.04,1.02,1.05,1.03,1.04,1.05,1.03,1.04]},
      {"s":7,"t":[1,2,3,4,5,6,7,8,9,10,12,14,16,18,20,23,26,30,34,38,42,46,50,55,60,65,70,75,80,85,90,95,100],"v":[0.15,0.3,0.38,0.45,0.5,0.55,0.6,0.58,0.62,0.66,0.64,0.68,0.66,0.7,0.68,0.72,0.7,0.74,0.72,0.7,0.73,0.75,0.72,0.76,0.74,0.77,0.75,0.78,0.8,0.79,0.81,0.8,0.82]},
      {"s":8,"t":[1,2,3,4,5,6,7,8,9,10,12,14,16,18,20,23,26,30,34,38,42,46,50,55,60,65,70,75,80,85,90,95,100],"v":[1.2,1.5,1.35,1.4,1.3,1.38,1.25,1.32,1.2,1.28,1.18,1.24,1.15,1.2,1.12,1.18,1.1,1.15,1.12,1.1,1.13,1.11,1.14,1.12,1.1,1.13,1.11,1.12,1.1,1.13,1.12,1.1,1.12]},
      {"s":9,"t":[1,2,3,4,5,6,7,8,9,10,12,14,16,18,20,23,26,30,34,38,42,46,50,55,60,65,70,75,80,85,90,95,100],"v":[0.35,0.6,0.75,0.85,0.8,0.9,0.86,0.92,0.88,0.95,0.92,0.96,0.93,0.97,0.95,0.98,0.96,0.99,0.97,1.0,0.98,1.01,0.99,1.0,1.02,1.0,1.01,0.99,1.01,1.0,1.02,1.01,1.0]},
      {"s":10,"t":[1,2,3,4,5,6,7,8,9,10,12,14,16,18,20,23,26,30,34,38,42,46,50,55,60,65,70,75,80,85,90,95,100],"v":[0.4,0.7,0.65,0.78,0.72,0.82,0.78,0.86,0.82,0.88,0.85,0.9,0.87,0.92,0.89,0.93,0.91,0.94,0.92,0.95,0.93,0.96,0.94,0.95,0.97,0.95,0.96,0.94,0.96,0.95,0.97,0.96,0.95]},
      {"s":11,"t":[1,2,3,4,5,6,7,8,9,10,12,14,16,18,20,23,26,30,34,38,42,46,50,55,60,65,70,75,80,85,90,95,100],"v":[0.9,1.2,1.1,1.25,1.15,1.22,1.12,1.18,1.1,1.15,1.08,1.12,1.06,1.1,1.05,1.08,1.1,1.06,1.09,1.07,1.05,1.08,1.06,1.07,1.05,1.08,1.06,1.07,1.05,1.06,1.08,1.07,1.06]},
      {"s":12,"t":[1,2,3,4,5,6,7,8,9,10,12,14,16,18,20,23,26,30,34,38,42,46,50,55,60,65,70,75,80,85,90,95,100],"v":[0.2,0.28,0.35,0.42,0.48,0.52,0.55,0.6,0.58,0.63,0.66,0.64,0.68,0.7,0.72,0.75,0.73,0.78,0.76,0.8,0.82,0.8,0.83,0.85,0.84,0.86,0.85,0.87,0.86,0.88,0.87,0.86,0.88]},
      {"s":13,"t":[1,2,3,4,5,6,7,8,9,10,12,14,16,18,20,23,26,30,34,38,42,46,50,55,60,65,70,75,80,85,90,95,100],"v":[1.6,1.4,1.65,1.45,1.35,1.5,1.38,1.3,1.35,1.25,1.3,1.22,1.28,1.2,1.25,1.18,1.22,1.28,1.25,1.2,1.22,1.18,1.2,1.17,1.19,1.16,1.18,1.15,1.17,1.16,1.15,1.17,1.16]},
      {"s":14,"t":[1,2,3,4,5,6,7,8,9,10,12,14,16,18,20,23,26,30,34,38,42,46,50,55,60,65,70,75,80,85,90,95,100],"v":[0.3,0.5,0.6,0.7,0.68,0.76,0.74,0.8,0.78,0.84,0.82,0.86,0.84,0.88,0.86,0.9,0.88,0.91,0.89,0.92,0.9,0.93,0.91,0.92,0.94,0.92,0.93,0.91,0.93,0.92,0.94,0.93,0.92]},
      {"s":15,"t":[1,2,3,4,5,6,7,8,9,10,12,14,16,18,20,23,26,30,34,38,42,46,50,55,60,65,70,75,80,85,90,95,100],"v":[0.6,1.0,0.9,1.05,0.95,1.1,1.0,1.08,1.02,1.1,1.05,1.12,1.08,1.14,1.1,1.16,1.12,1.15,1.12,1.1,1.13,1.11,1.09,1.12,1.1,1.08,1.11,1.09,1.1,1.08,1.1,1.09,1.1]},
      {"s":16,"t":[1,2,3,4,5,6,7,8,9,10,12,14,16,18,20,23,26,30,34,38,42,46,50,55,60,65,70,75,80,85,90,95,100],"v":[0.25,0.45,0.55,0.62,0.7,0.66,0.74,0.72,0.78,0.76,0.8,0.78,0.82,0.8,0.84,0.82,0.86,0.84,0.87,0.85,0.88,0.86,0.89,0.87,0.9,0.88,0.91,0.89,0.9,0.92,0.9,0.91,0.9]},
      {"s":17,"t":[1,2,3,4,5,6,7,8,9,10,12,14,16,18,20,23,26,30,34,38,42,46,50,55,60,65,70,75,80,85,90,95,100],"v":[1.0,1.3,1.2,1.15,1.28,1.2,1.3,1.22,1.26,1.18,1.22,1.15,1.2,1.12,1.16,1.1,1.14,1.12,1.1,1.13,1.11,1.09,1.12,1.1,1.08,1.11,1.09,1.07,1.1,1.08,1.09,1.07,1.08]},
      {"s":18,"t":[1,2,3,4,5,6,7,8,9,10,12,14,16,18,20,23,26,30,34,38,42,46,50,55,60,65,70,75,80,85,90,95,100],"v":[0.45,0.8,0.88,0.82,0.92,0.88,0.95,0.9,0.96,0.93,0.98,0.95,1.0,0.97,1.02,0.99,1.01,1.03,1.0,1.02,1.04,1.01,1.03,1.02,1.0,1.03,1.01,1.02,1.0,1.02,1.01,1.03,1.02]},
      {"s":19,"t":[1,2,3,4,5,6,7,8,9,10,12,14,16,18,20,23,26,30,34,38,42,46,50,55,60,65,70,75,80,85,90,95,100],"v":[0.18,0.32,0.42,0.5,0.56,0.6,0.64,0.62,0.66,0.7,0.68,0.72,0.7,0.74,0.72,0.76,0.74,0.72,0.7,0.73,0.76,0.74,0.78,0.8,0.78,0.76,0.79,0.82,0.8,0.83,0.85,0.84,0.86]},
      {"s":20,"t":[1,2,3,4,5,6,7,8,9,10,12,14,16,18,20,23,26,30,34,38,42,46,50,55,60,65,70,75,80,85,90,95,100],"v":[0.7,1.1,1.0,0.92,1.0,0.95,1.02,0.98,0.94,1.0,0.96,1.02,0.98,0.95,1.0,0.97,0.99,0.96,0.98,1.0,0.97,0.99,0.98,0.96,0.99,0.97,0.98,1.0,0.98,0.99,0.97,0.98,0.99]},
      {"s":21,"t":[1,2,3,4,5,6,7,8,9,10,12,14,16,18,20,23,26,30,34,38,42,46,50,55,60,65,70,75,80,85,90,95,100],"v":[0.22,0.42,0.55,0.62,0.68,0.72,0.7,0.76,0.8,0.78,0.83,0.86,0.84,0.88,0.9,0.88,0.92,0.9,0.93,0.95,0.93,0.96,0.94,0.97,0.95,0.97,0.96,0.98,0.96,0.97,0.98,0.96,0.97]},
      {"s":22,"t":[1,2,3,4,5,6,7,8,9,10,12,14,16,18,20,23,26,30,34,38,42,46,50,55,60,65,70,75,80,85,90,95,100],"v":[0.35,0.65,0.8,0.9,0.85,0.95,0.92,1.0,0.96,1.02,0.98,1.04,1.0,1.06,1.02,1.05,1.03,1.06,1.04,1.07,1.05,1.03,1.06,1.04,1.05,1.03,1.06,1.04,1.05,1.06,1.04,1.05,1.06]},
      {"s":23,"t":[1,2,3,4,5,6,7,8,9,10,12,14,16,18,20,23,26,30,34,38,42,46,50,55,60,65,70,75,80,85,90,95,100],"v":[0.8,1.4,1.25,1.35,1.2,1.3,1.18,1.26,1.15,1.22,1.14,1.2,1.12,1.16,1.1,1.14,1.08,1.12,1.1,1.08,1.11,1.09,1.1,1.08,1.1,1.09,1.07,1.09,1.08,1.1,1.09,1.08,1.09]},
      {"s":24,"t":[1,2,3,4,5,6,7,8,9,10,12,14,16,18,20,23,26,30,34,38,42,46,50,55,60,65,70,75,80,85,90,95,100],"v":[0.15,0.25,0.32,0.4,0.45,0.5,0.55,0.52,0.58,0.62,0.6,0.65,0.68,0.66,0.7,0.68,0.72,0.7,0.74,0.76,0.74,0.78,0.77,0.8,0.79,0.82,0.8,0.83,0.82,0.84,0.83,0.85,0.84]},
      {"s":25,"t":[1,2,3,4,5,6,7,8,9,10,12,14,16,18,20,23,26,30,34,38,42,46,50,55,60,65,70,75,80,85,90,95,100],"v":[0.4,0.75,0.9,0.85,0.98,0.92,1.02,0.96,1.05,0.98,1.02,0.97,1.0,0.96,0.99,0.95,0.98,0.96,0.99,0.97,0.95,0.98,0.96,0.97,0.95,0.98,0.96,0.97,0.95,0.96,0.97,0.95,0.96]},
      {"s":26,"t":[1,2,3,4,5,6,7,8,9,10,12,14,16,18,20,23,26,30,34,38,42,46,50,55,60,65,70,75,80,85,90,95,100],"v":[1.3,1.7,1.45,1.55,1.4,1.5,1.35,1.42,1.3,1.36,1.28,1.32,1.25,1.3,1.22,1.27,1.2,1.24,1.26,1.22,1.2,1.23,1.21,1.19,1.21,1.2,1.18,1.2,1.19,1.21,1.2,1.19,1.2]},
      {"s":27,"t":[1,2,3,4,5,6,7,8,9,10,12,14,16,18,20,23,26,30,34,38,42,46,50,55,60,65,70,75,80,85,90,95,100],"v":[0.28,0.52,0.62,0.7,0.74,0.8,0.76,0.84,0.8,0.86,0.83,0.88,0.85,0.9,0.87,0.92,0.89,0.93,0.91,0.94,0.92,0.95,0.93,0.94,0.96,0.94,0.95,0.93,0.95,0.94,0.96,0.95,0.94]},
      {"s":28,"t":[1,2,3,4,5,6,7,8,9,10,12,14,16,18,20,23,26,30,34,38,42,46,50,55,60,65,70,75,80,85,90,95,100],"v":[0.55,0.95,1.05,1.12,1.05,1.15,1.08,1.2,1.12,1.18,1.1,1.15,1.08,1.12,1.06,1.1,1.05,1.08,1.04,1.07,1.05,1.03,1.06,1.04,1.02,1.05,1.03,1.04,1.02,1.03,1.04,1.02,1.03]},
      {"s":29,"t":[1,2,3,4,5,6,7,8,9,10,12,14,16,18,20,23,26,30,34,38,42,46,50,55,60,65,70,75,80,85,90,95,100],"v":[0.2,0.38,0.48,0.55,0.6,0.58,0.64,0.68,0.66,0.7,0.68,0.66,0.7,0.68,0.72,0.7,0.74,0.71,0.69,0.72,0.7,0.73,0.71,0.74,0.72,0.75,0.77,0.76,0.78,0.8,0.79,0.81,0.8]},
      {"s":30,"t":[1,2,3,4,5,6,7,8,9,10,12,14,16,18,20,23,26,30,34,38,42,46,50,55,60,65,70,75,80,85,90,95,100],"v":[0.65,1.15,1.05,1.18,1.1,1.2,1.12,1.06,1.14,1.08,1.12,1.06,1.1,1.04,1.08,1.03,1.06,1.02,1.05,1.03,1.01,1.04,1.02,1.03,1.01,1.03,1.02,1.04,1.02,1.03,1.01,1.02,1.03]},
      {"s":31,"t":[1,2,3,4,5,6,7,8,9,10,12,14,16,18,20,23,26,30,34,38,42,46,50,55,60,65,70,75,80,85,90,95,100],"v":[0.3,0.6,0.72,0.8,0.76,0.84,0.8,0.86,0.83,0.88,0.85,0.9,0.87,0.91,0.89,0.93,0.91,0.94,0.92,0.95,0.93,0.96,0.94,0.95,0.93,0.95,0.94,0.96,0.94,0.93,0.95,0.94,0.93]},
      {"s":32,"t":[1,2,3,4,5,6,7,8,9,10,12,14,16,18,20,23,26,30,34,38,42,46,50,55,60,65,70,75,80,85,90,95,100],"v":[1.1,1.55,1.6,1.4,1.5,1.35,1.42,1.3,1.36,1.26,1.32,1.24,1.28,1.2,1.25,1.22,1.26,1.3,1.24,1.2,1.17,1.2,1.16,1.18,1.15,1.17,1.14,1.16,1.13,1.15,1.14,1.13,1.14]},
      {"s":33,"t":[1,2,3,4,5,6,7,8,9,10,12,14,16,18,20,23,26,30,34,38,42,46,50,55,60,65,70,75,80,85,90,95,100],"v":[0.38,0.7,0.82,0.95,0.9,0.98,0.94,1.0,0.97,1.03,0.99,1.01,0.97,1.0,0.98,1.01,0.99,1.02,1.0,0.98,1.01,0.99,1.0,0.98,1.0,0.99,1.01,0.99,1.0,0.98,1.0,0.99,1.0]},
      {"s":34,"t":[1,2,3,4,5,6,7,8,9,10,12,14,16,18,20,23,26,30,34,38,42,46,50,55,60,65,70,75,80,85,90,95,100],"v":[0.18,0.3,0.4,0.48,0.55,0.62,0.66,0.7,0.74,0.72,0.76,0.8,0.78,0.82,0.8,0.84,0.82,0.86,0.84,0.87,0.85,0.88,0.86,0.89,0.87,0.88,0.9,0.88,0.89,0.88,0.9,0.89,0.88]}
    ],
    "phi": [
      {"s":1,"t":[1,2,3,4,5,6,7,8,9,10,12,14,16,18,20,23,26,30,34,38,42,46,50,55,60,65,70,75,80,85,90,95,100],"v":[0.8,0.65,0.78,0.7,0.6,0.72,0.62,0.55,0.6,0.52,0.56,0.5,0.54,0.48,0.52,0.5,0.47,0.5,0.48,0.45,0.48,0.46,0.48,0.45,0.48,0.46,0.48,0.45,0.48,0.46,0.45,0.48,0.46]},
      {"s":2,"t":[1,2,3,4,5,6,7,8,9,10,12,14,16,18,20,23,26,30,34,38,42,46,50,55,60,65,70,75,80,85,90,95,100],"v":[0.1,0.2,0.25,0.3,0.22,0.28,0.33,0.3,0.33,0.35,0.33,0.35,0.38,0.35,0.38,0.36,0.38,0.35,0.38,0.36,0.38,0.4,0.38,0.36,0.38,0.36,0.38,0.35,0.37,0.35,0.37,0.36,0.37]},
      {"s":3,"t":[1,2,3,4,5,6,7,8,9,10,12,14,16,18,20,23,26,30,34,38,42,46,50,55,60,65,70,75,80,85,90,95,100],"v":[0.6,0.8,0.7,0.62,0.68,0.55,0.6,0.5,0.55,0.48,0.5,0.45,0.48,0.44,0.46,0.42,0.45,0.43,0.45,0.42,0.44,0.42,0.44,0.43,0.42,0.44,0.42,0.43,0.45,0.43,0.42,0.43,0.44]},
      {"s":4,"t":[1,2,3,4,5,6,7,8,9,10,12,14,16,18,20,23,26,30,34,38,42,46,50,55,60,65,70,75,80,85,90,95,100],"v":[0.3,0.1,0.2,0.28,0.33,0.25,0.3,0.35,0.3,0.33,0.36,0.33,0.35,0.33,0.36,0.34,0.33,0.35,0.33,0.35,0.33,0.35,0.33,0.34,0.35,0.33,0.34,0.35,0.33,0.34,0.35,0.33,0.34]},
      {"s":5,"t":[1,2,3,4,5,6,7,8,9,10,12,14,16,18,20,23,26,30,34,38,42,46,50,55,60,65,70,75,80,85,90,95,100],"v":[0.5,0.7,0.8,0.72,0.66,0.7,0.6,0.64,0.56,0.6,0.53,0.56,0.5,0.54,0.5,0.55,0.52,0.62,0.58,0.6,0.56,0.55,0.52,0.5,0.48,0.46,0.47,0.45,0.47,0.45,0.44,0.45,0.44]},
      {"s":6,"t":[1,2,3,4,5,6,7,8,9,10,12,14,16,18,20,23,26,30,34,38,42,46,50,55,60,65,70,75,80,85,90,95,100],"v":[0.2,0.4,0.35,0.45,0.4,0.5,0.42,0.46,0.4,0.44,0.4,0.43,0.4,0.42,0.4,0.38,0.4,0.42,0.4,0.38,0.4,0.42,0.4,0.41,0.4,0.42,0.4,0.41,0.4,0.42,0.4,0.41,0.4]},
      {"s":7,"t":[1,2,3,4,5,6,7,8,9,10,12,14,16,18,20,23,26,30,34,38,42,46,50,55,60,65,70,75,80,85,90,95,100],"v":[0.7,0.5,0.6,0.55,0.5,0.45,0.52,0.48,0.45,0.42,0.46,0.43,0.4,0.43,0.41,0.44,0.42,0.4,0.42,0.44,0.42,0.4,0.42,0.4,0.42,0.4,0.43,0.41,0.4,0.42,0.4,0.42,0.41]},
      {"s":8,"t":[1,2,3,4,5,6,7,8,9,10,12,14,16,18,20,23,26,30,34,38,42,46,50,55,60,65,70,75,80,85,90,95,100],"v":[0.0,0.15,0.2,0.25,0.3,0.27,0.22,0.28,0.3,0.26,0.3,0.33,0.3,0.33,0.31,0.33,0.35,0.33,0.35,0.36,0.35,0.37,0.35,0.37,0.36,0.38,0.36,0.38,0.37,0.38,0.36,0.38,0.37]},
      {"s":9,"t":[1,2,3,4,5,6,7,8,9,10,12,14,16,18,20,23,26,30,34,38,42,46,50,55,60,65,70,75,80,85,90,95,100],"v":[0.75,0.6,0.5,0.58,0.52,0.6,0.5,0.55,0.5,0.47,0.5,0.46,0.5,0.47,0.45,0.48,0.46,0.48,0.45,0.47,0.45,0.48,0.46,0.45,0.47,0.45,0.47,0.46,0.44,0.46,0.45,0.47,0.46]},
      {"s":10,"t":[1,2,3,4,5,6,7,8,9,10,12,14,16,18,20,23,26,30,34,38,42,46,50,55,60,65,70,75,80,85,90,95,100],"v":[0.4,0.3,0.35,0.3,0.38,0.33,0.36,0.4,0.35,0.38,0.35,0.38,0.36,0.38,0.36,0.38,0.4,0.38,0.37,0.39,0.38,0.4,0.38,0.39,0.38,0.4,0.39,0.38,0.4,0.38,0.39,0.4,0.38]},
      {"s":11,"t":[1,2,3,4,5,6,7,8,9,10,12,14,16,18,20,23,26,30,34,38,42,46,50,55,60,65,70,75,80,85,90,95,100],"v":[0.2,0.5,0.6,0.5,0.55,0.48,0.52,0.46,0.5,0.45,0.48,0.44,0.46,0.43,0.45,0.42,0.44,0.43,0.45,0.43,0.44,0.43,0.45,0.43,0.44,0.43,0.44,0.42,0.44,0.43,0.44,0.43,0.44]},
      {"s":12,"t":[1,2,3,4,5,6,7,8,9,10,12,14,16,18,20,23,26,30,34,38,42,46,50,55,60,65,70,75,80,85,90,95,100],"v":[0.1,0.25,0.3,0.2,0.28,0.33,0.28,0.32,0.36,0.33,0.3,0.33,0.35,0.33,0.36,0.34,0.36,0.34,0.36,0.34,0.36,0.35,0.37,0.35,0.36,0.35,0.37,0.35,0.36,0.35,0.37,0.36,0.35]},
      {"s":13,"t":[1,2,3,4,5,6,7,8,9,10,12,14,16,18,20,23,26,30,34,38,42,46,50,55,60,65,70,75,80,85,90,95,100],"v":[0.55,0.75,0.65,0.6,0.55,0.62,0.56,0.5,0.54,0.5,0.47,0.5,0.47,0.45,0.48,0.45,0.47,0.45,0.43,0.45,0.47,0.45,0.43,0.45,0.43,0.45,0.44,0.43,0.45,0.43,0.44,0.43,0.45]},
      {"s":14,"t":[1,2,3,4,5,6,7,8,9,10,12,14,16,18,20,23,26,30,34,38,42,46,50,55,60,65,70,75,80,85,90,95,100],"v":[0.3,0.45,0.4,0.35,0.42,0.38,0.33,0.38,0.35,0.4,0.36,0.38,0.35,0.37,0.35,0.37,0.36,0.38,0.36,0.38,0.36,0.38,0.37,0.35,0.37,0.36,0.38,0.36,0.37,0.36,0.38,0.37,0.36]},
      {"s":15,"t":[1,2,3,4,5,6,7,8,9,10,12,14,16,18,20,23,26,30,34,38,42,46,50,55,60,65,70,75,80,85,90,95,100],"v":[0.0,0.1,0.15,0.2,0.25,0.2,0.25,0.22,0.27,0.24,0.2,0.25,0.28,0.3,0.28,0.31,0.33,0.31,0.33,0.35,0.33,0.34,0.35,0.33,0.35,0.34,0.35,0.33,0.34,0.33,0.35,0.34,0.33]},
      {"s":16,"t":[1,2,3,4,5,6,7,8,9,10,12,14,16,18,20,23,26,30,34,38,42,46,50,55,60,65,70,75,80,85,90,95,100],"v":[0.65,0.55,0.45,0.5,0.45,0.4,0.45,0.42,0.46,0.43,0.4,0.43,0.45,0.42,0.44,0.41,0.43,0.41,0.4,0.42,0.4,0.41,0.43,0.41,0.42,0.4,0.42,0.41,0.42,0.4,0.41,0.42,0.4]},
      {"s":17,"t":[1,2,3,4,5,6,7,8,9,10,12,14,16,18,20,23,26,30,34,38,42,46,50,55,60,65,70,75,80,85,90,95,100],"v":[0.35,0.2,0.3,0.4,0.35,0.42,0.38,0.35,0.4,0.37,0.4,0.38,0.4,0.38,0.41,0.39,0.38,0.4,0.38,0.4,0.42,0.4,0.39,0.4,0.38,0.4,0.39,0.41,0.39,0.4,0.39,0.4,0.39]},
      {"s":18,"t":[1,2,3,4,5,6,7,8,9,10,12,14,16,18,20,23,26,30,34,38,42,46,50,55,60,65,70,75,80,85,90,95,100],"v":[0.8,0.7,0.6,0.65,0.58,0.52,0.56,0.5,0.53,0.5,0.52,0.48,0.5,0.52,0.49,0.5,0.48,0.5,0.47,0.49,0.47,0.5,0.48,0.47,0.46,0.48,0.47,0.46,0.48,0.47,0.46,0.47,0.48]},
      {"s":19,"t":[1,2,3,4,5,6,7,8,9,10,12,14,16,18,20,23,26,30,34,38,42,46,50,55,60,65,70,75,80,85,90,95,100],"v":[0.15,0.3,0.4,0.33,0.3,0.36,0.33,0.3,0.33,0.3,0.28,0.3,0.33,0.3,0.33,0.31,0.33,0.35,0.33,0.35,0.33,0.35,0.34,0.33,0.35,0.34,0.33,0.35,0.33,0.34,0.33,0.35,0.34]},
      {"s":20,"t":[1,2,3,4,5,6,7,8,9,10,12,14,16,18,20,23,26,30,34,38,42,46,50,55,60,65,70,75,80,85,90,95,100],"v":[0.45,0.6,0.55,0.45,0.5,0.45,0.48,0.43,0.46,0.42,0.45,0.42,0.44,0.4,0.43,0.4,0.42,0.44,0.42,0.4,0.43,0.41,0.42,0.44,0.42,0.43,0.41,0.42,0.44,0.42,0.43,0.41,0.42]},
      {"s":21,"t":[1,2,3,4,5,6,7,8,9,10,12,14,16,18,20,23,26,30,34,38,42,46,50,55,60,65,70,75,80,85,90,95,100],"v":[0.5,0.8,0.72,0.6,0.65,0.55,0.58,0.5,0.55,0.48,0.52,0.46,0.5,0.45,0.48,0.45,0.47,0.45,0.475,0.45,0.475,0.45,0.475,0.45,0.475,0.45,0.475,0.45,0.475,0.45,0.475,0.45,0.475]},
      {"s":22,"t":[1,2,3,4,5,6,7,8,9,10,12,14,16,18,20,23,26,30,34,38,42,46,50,55,60,65,70,75,80,85,90,95,100],"v":[0.0,0.2,0.33,0.25,0.3,0.36,0.3,0.33,0.36,0.33,0.35,0.33,0.35,0.333,0.35,0.333,0.35,0.333,0.35,0.375,0.35,0.375,0.35,0.333,0.35,0.333,0.35,0.375,0.35,0.333,0.35,0.375,0.35]},
      {"s":23,"t":[1,2,3,4,5,6,7,8,9,10,12,14,16,18,20,23,26,30,34,38,42,46,50,55,60,65,70,75,80,85,90,95,100],"v":[0.7,0.6,0.5,0.55,0.45,0.5,0.44,0.48,0.42,0.45,0.42,0.45,0.425,0.45,0.425,0.4,0.425,0.45,0.425,0.4,0.425,0.4,0.425,0.45,0.425,0.4,0.425,0.45,0.425,0.4,0.425,0.4,0.425]},
      {"s":24,"t":[1,2,3,4,5,6,7,8,9,10,12,14,16,18,20,23,26,30,34,38,42,46,50,55,60,65,70,75,80,85,90,95,100],"v":[0.25,0.45,0.3,0.4,0.33,0.38,0.33,0.375,0.35,0.375,0.4,0.375,0.35,0.375,0.4,0.375,0.35,0.375,0.4,0.375,0.35,0.375,0.4,0.375,0.35,0.375,0.4,0.375,0.35,0.375,0.4,0.375,0.35]},
      {"s":25,"t":[1,2,3,4,5,6,7,8,9,10,12,14,16,18,20,23,26,30,34,38,42,46,50,55,60,65,70,75,80,85,90,95,100],"v":[0.6,0.75,0.8,0.7,0.62,0.68,0.58,0.62,0.55,0.58,0.52,0.55,0.5,0.53,0.5,0.475,0.5,0.475,0.5,0.475,0.45,0.475,0.45,0.475,0.45,0.475,0.45,0.425,0.45,0.475,0.45,0.425,0.45]},
      {"s":26,"t":[1,2,3,4,5,6,7,8,9,10,12,14,16,18,20,23,26,30,34,38,42,46,50,55,60,65,70,75,80,85,90,95,100],"v":[0.1,0.3,0.2,0.33,0.28,0.36,0.4,0.36,0.4,0.375,0.4,0.375,0.4,0.425,0.4,0.375,0.4,0.425,0.4,0.375,0.4,0.425,0.4,0.425,0.4,0.375,0.4,0.425,0.4,0.375,0.4,0.425,0.4]},
      {"s":27,"t":[1,2,3,4,5,6,7,8,9,10,12,14,16,18,20,23,26,30,34,38,42,46,50,55,60,65,70,75,80,85,90,95,100],"v":[0.45,0.55,0.45,0.5,0.42,0.47,0.43,0.46,0.43,0.45,0.425,0.45,0.425,0.4,0.425,0.45,0.425,0.45,0.475,0.45,0.425,0.45,0.425,0.45,0.425,0.45,0.425,0.45,0.425,0.45,0.425,0.45,0.425]},
      {"s":28,"t":[1,2,3,4,5,6,7,8,9,10,12,14,16,18,20,23,26,30,34,38,42,46,50,55,60,65,70,75,80,85,90,95,100],"v":[0.2,0.15,0.25,0.3,0.25,0.3,0.28,0.33,0.3,0.33,0.3,0.333,0.35,0.333,0.35,0.333,0.35,0.333,0.35,0.333,0.35,0.333,0.35,0.333,0.35,0.333,0.35,0.333,0.35,0.333,0.35,0.333,0.35]},
      {"s":29,"t":[1,2,3,4,5,6,7,8,9,10,12,14,16,18,20,23,26,30,34,38,42,46,50,55,60,65,70,75,80,85,90,95,100],"v":[0.8,0.7,0.78,0.65,0.7,0.6,0.64,0.56,0.6,0.54,0.56,0.52,0.55,0.5,0.52,0.55,0.52,0.5,0.48,0.5,0.475,0.5,0.475,0.45,0.475,0.45,0.475,0.45,0.475,0.45,0.475,0.45,0.475]},
      {"s":30,"t":[1,2,3,4,5,6,7,8,9,10,12,14,16,18,20,23,26,30,34,38,42,46,50,55,60,65,70,75,80,85,90,95,100],"v":[0.3,0.5,0.4,0.45,0.38,0.42,0.38,0.4,0.375,0.4,0.425,0.4,0.375,0.4,0.425,0.4,0.375,0.4,0.425,0.4,0.375,0.4,0.425,0.4,0.375,0.4,0.425,0.4,0.375,0.4,0.425,0.4,0.375]},
      {"s":31,"t":[1,2,3,4,5,6,7,8,9,10,12,14,16,18,20,23,26,30,34,38,42,46,50,55,60,65,70,75,80,85,90,95,100],"v":[0.4,0.65,0.55,0.6,0.5,0.55,0.48,0.52,0.46,0.5,0.45,0.48,0.45,0.475,0.45,0.425,0.45,0.425,0.45,0.425,0.4,0.425,0.45,0.425,0.4,0.425,0.45,0.425,0.4,0.425,0.45,0.425,0.45]},
      {"s":32,"t":[1,2,3,4,5,6,7,8,9,10,12,14,16,18,20,23,26,30,34,38,42,46,50,55,60,65,70,75,80,85,90,95,100],"v":[0.0,0.1,0.18,0.25,0.22,0.28,0.25,0.3,0.28,0.32,0.3,0.33,0.31,0.333,0.35,0.333,0.35,0.375,0.35,0.333,0.35,0.375,0.35,0.375,0.35,0.333,0.35,0.375,0.35,0.375,0.35,0.333,0.35]},
      {"s":33,"t":[1,2,3,4,5,6,7,8,9,10,12,14,16,18,20,23,26,30,34,38,42,46,50,55,60,65,70,75,80,85,90,95,100],"v":[0.55,0.4,0.5,0.42,0.48,0.4,0.45,0.4,0.43,0.4,0.42,0.4,0.375,0.4,0.375,0.4,0.425,0.4,0.375,0.4,0.375,0.4,0.425,0.4,0.375,0.4,0.375,0.4,0.425,0.4,0.375,0.4,0.375]},
      {"s":34,"t":[1,2,3,4,5,6,7,8,9,10,12,14,16,18,20,23,26,30,34,38,42,46,50,55,60,65,70,75,80,85,90,95,100],"v":[0.35,0.6,0.7,0.58,0.64,0.55,0.6,0.52,0.56,0.5,0.53,0.5,0.475,0.5,0.475,0.5,0.475,0.45,0.475,0.5,0.475,0.45,0.475,0.45,0.475,0.5,0.475,0.45,0.475,0.45,0.475,0.45,0.475]}
    ],
    "alphaMean": [{"t":[1,2,3,4,5,6,8,10,12,15,20,25,30,40,50,60,70,80,90,100],"m":[0.0,0.41,0.43,0.45,0.46,0.465,0.475,0.48,0.482,0.485,0.49,0.492,0.494,0.497,0.5,0.5,0.499,0.5,0.5,0.5]}],
    "betaMean": [{"t":[1,2,3,4,5,6,8,10,12,15,20,25,30,40,50,60,70,80,90,100],"m":[0.96,0.99,1.0,1.0,1.0,1.005,1.01,1.0,0.99,1.0,1.01,1.01,1.01,1.02,1.01,1.005,1.0,1.0,1.0,1.0]}],
    "sigmaMean": [{"t":[1,2,3,4,5,6,8,10,12,15,20,25,30,40,50,60,70,80,90,100],"m":[0.43,0.65,0.72,0.75,0.79,0.82,0.86,0.88,0.9,0.93,0.95,0.965,0.97,0.985,0.99,0.995,0.995,0.995,1.0,1.0]}],
    "phiMean": [{"t":[1,2,3,4,5,6,8,10,12,15,20,25,30,40,50,60,70,80,90,100],"m":[0.23,0.3,0.33,0.34,0.345,0.36,0.365,0.37,0.375,0.38,0.385,0.39,0.392,0.4,0.402,0.4,0.4,0.4,0.4,0.4]}]
  },
  "columns": 2,
  "bounds": "flush",
  "spacing": {"row": 56, "column": 42},
  "concat": [
    {
      "width": 373, "height": 266,
      "title": {"text": "α", "offset": -43},
      "resolve": {"axis": {"x": "independent", "y": "independent"}},
      "layer": [
        {"data": {"name": "alpha"}, "transform": [{"flatten": ["t", "v"]}],
         "mark": {"type": "line", "color": "#b4b4b4", "strokeWidth": 1, "clip": true},
         "encoding": {
           "x": {"field": "t", "type": "quantitative", "scale": {"domain": [0, 100], "nice": false}, "axis": {"values": [0,20,40,60,80,100], "format": "d", "title": "Time"}},
           "y": {"field": "v", "type": "quantitative", "scale": {"domain": [-0.47, 1.16], "nice": false, "zero": false}, "axis": {"values": [0, 0.5, 1], "format": ".1f", "title": null}},
           "detail": {"field": "s"}}},
        {"mark": {"type": "rule", "color": "black", "strokeDash": [1, 2], "strokeWidth": 1},
         "encoding": {"y": {"datum": 0.5, "type": "quantitative", "axis": null}}},
        {"data": {"name": "alphaMean"}, "transform": [{"flatten": ["t", "m"]}],
         "mark": {"type": "line", "color": "#3a3a3a", "strokeWidth": 1.3, "clip": true},
         "encoding": {
           "x": {"field": "t", "type": "quantitative", "axis": {"orient": "top", "values": [0,20,40,60,80,100], "labels": false, "title": null}},
           "y": {"field": "m", "type": "quantitative", "axis": {"orient": "right", "values": [0, 0.5, 1], "labels": false, "title": null}}}}
      ]
    },
    {
      "width": 373, "height": 266,
      "title": {"text": "β", "offset": -43},
      "resolve": {"axis": {"x": "independent", "y": "independent"}},
      "layer": [
        {"data": {"name": "beta"}, "transform": [{"flatten": ["t", "v"]}],
         "mark": {"type": "line", "color": "#b4b4b4", "strokeWidth": 1, "clip": true},
         "encoding": {
           "x": {"field": "t", "type": "quantitative", "scale": {"domain": [0, 100], "nice": false}, "axis": {"values": [0,20,40,60,80,100], "format": "d", "title": "Time"}},
           "y": {"field": "v", "type": "quantitative", "scale": {"domain": [-0.47, 2.67], "nice": false, "zero": false}, "axis": {"values": [0, 0.5, 1, 1.5, 2, 2.5], "format": ".1f", "title": null}},
           "detail": {"field": "s"}}},
        {"mark": {"type": "rule", "color": "black", "strokeDash": [1, 2], "strokeWidth": 1},
         "encoding": {"y": {"datum": 1.0, "type": "quantitative", "axis": null}}},
        {"data": {"name": "betaMean"}, "transform": [{"flatten": ["t", "m"]}],
         "mark": {"type": "line", "color": "#3a3a3a", "strokeWidth": 1.3, "clip": true},
         "encoding": {
           "x": {"field": "t", "type": "quantitative", "axis": {"orient": "top", "values": [0,20,40,60,80,100], "labels": false, "title": null}},
           "y": {"field": "m", "type": "quantitative", "axis": {"orient": "right", "values": [0, 0.5, 1, 1.5, 2, 2.5], "labels": false, "title": null}}}}
      ]
    },
    {
      "width": 373, "height": 266,
      "title": {"text": "σ²", "offset": -59},
      "resolve": {"axis": {"x": "independent", "y": "independent"}},
      "layer": [
        {"data": {"name": "sigma"}, "transform": [{"flatten": ["t", "v"]}],
         "mark": {"type": "line", "color": "#b4b4b4", "strokeWidth": 1, "clip": true},
         "encoding": {
           "x": {"field": "t", "type": "quantitative", "scale": {"domain": [0, 100], "nice": false}, "axis": {"values": [0,20,40,60,80,100], "format": "d", "title": "Time"}},
           "y": {"field": "v", "type": "quantitative", "scale": {"domain": [0.11, 1.93], "nice": false, "zero": false}, "axis": {"values": [0.5, 1, 1.5], "format": ".1f", "title": null}},
           "detail": {"field": "s"}}},
        {"mark": {"type": "rule", "color": "black", "strokeDash": [1, 2], "strokeWidth": 1},
         "encoding": {"y": {"datum": 1.0, "type": "quantitative", "axis": null}}},
        {"data": {"name": "sigmaMean"}, "transform": [{"flatten": ["t", "m"]}],
         "mark": {"type": "line", "color": "#3a3a3a", "strokeWidth": 1.3, "clip": true},
         "encoding": {
           "x": {"field": "t", "type": "quantitative", "axis": {"orient": "top", "values": [0,20,40,60,80,100], "labels": false, "title": null}},
           "y": {"field": "m", "type": "quantitative", "axis": {"orient": "right", "values": [0.5, 1, 1.5], "labels": false, "title": null}}}}
      ]
    },
    {
      "width": 373, "height": 266,
      "title": {"text": "φ", "offset": -59},
      "resolve": {"axis": {"x": "independent", "y": "independent"}},
      "layer": [
        {"data": {"name": "phi"}, "transform": [{"flatten": ["t", "v"]}],
         "mark": {"type": "line", "color": "#b4b4b4", "strokeWidth": 1, "clip": true},
         "encoding": {
           "x": {"field": "t", "type": "quantitative", "scale": {"domain": [0, 100], "nice": false}, "axis": {"values": [0,20,40,60,80,100], "format": "d", "title": "Time"}},
           "y": {"field": "v", "type": "quantitative", "scale": {"domain": [0.2, 0.8], "nice": false, "zero": false}, "axis": {"values": [0.2, 0.3, 0.4, 0.5, 0.6, 0.7, 0.8], "format": ".1f", "title": null}},
           "detail": {"field": "s"}}},
        {"mark": {"type": "rule", "color": "black", "strokeDash": [1, 2], "strokeWidth": 1},
         "encoding": {"y": {"datum": 0.4, "type": "quantitative", "axis": null}}},
        {"data": {"name": "phiMean"}, "transform": [{"flatten": ["t", "m"]}],
         "mark": {"type": "line", "color": "#3a3a3a", "strokeWidth": 1.3, "clip": true},
         "encoding": {
           "x": {"field": "t", "type": "quantitative", "axis": {"orient": "top", "values": [0,20,40,60,80,100], "labels": false, "title": null}},
           "y": {"field": "m", "type": "quantitative", "axis": {"orient": "right", "values": [0.2, 0.3, 0.4, 0.5, 0.6, 0.7, 0.8], "labels": false, "title": null}}}}
      ]
    }
  ],
  "config": {
    "view": {"stroke": "#000", "strokeWidth": 1.2},
    "axis": {"labelFont": "Liberation Mono", "labelFontSize": 12, "labelColor": "#000", "titleFont": "Liberation Mono", "titleFontSize": 12, "titleFontWeight": "normal", "titleColor": "#000", "titlePadding": 8, "domain": false, "grid": false, "tickSize": -4, "tickColor": "#000", "labelPadding": 9, "labelFlush": false, "labelOverlap": false},
    "axisX": {"labelPadding": 12},
    "title": {"font": "Liberation Serif", "fontSize": 14, "fontWeight": "normal", "color": "#000", "anchor": "middle"}
  }
}
